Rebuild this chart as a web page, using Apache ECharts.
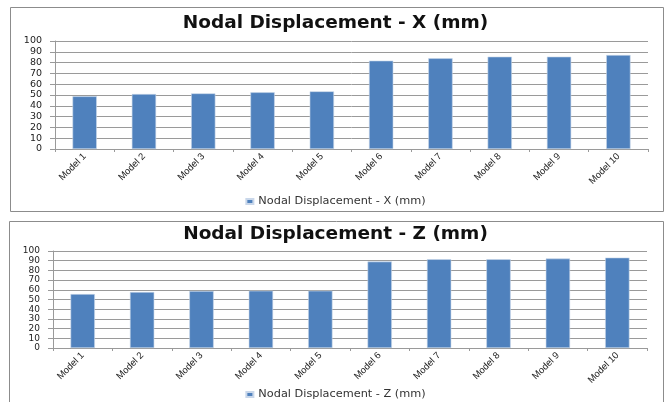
<!DOCTYPE html>
<html>
<head>
<meta charset="utf-8">
<script src="https://cdn.jsdelivr.net/npm/echarts@6/dist/echarts.min.js"></script>
<style>
  html, body { margin: 0; padding: 0; background: #fff; }
  #chart { width: 671px; height: 402px; }
</style>
</head>
<body>
<div id="chart"></div>
<script>
// Model names along the category axis
const models = ['Model 1', 'Model 2', 'Model 3', 'Model 4', 'Model 5',
                'Model 6', 'Model 7', 'Model 8', 'Model 9', 'Model 10'];

// Nodal displacement results per model (mm)
const dispX = [48.8, 50.9, 51.5, 52.5, 53.4, 81.8, 84.0, 85.5, 85.5, 87.0];
const dispZ = [55.6, 57.7, 58.7, 59.0, 59.0, 89.1, 91.5, 91.5, 92.2, 93.2];

// Series / title names
const nameX = 'Nodal Displacement - X (mm)';
const nameZ = 'Nodal Displacement - Z (mm)';

const BAR = '#4F81BD';
const GRID_LINE = '#9a9a9a';

function yAxisFor(gridIndex, size) {
  return {
    type: 'value', gridIndex, min: 0, max: 100, interval: 10,
    axisLine: { show: true, lineStyle: { color: GRID_LINE } },
    axisTick: { show: true, length: 5, lineStyle: { color: GRID_LINE } },
    splitLine: { show: true, lineStyle: { color: GRID_LINE, width: 1 } },
    axisLabel: {
      fontFamily: 'DejaVu Sans', fontSize: size, color: '#222', margin: 13,
      showMinLabel: true, showMaxLabel: true, hideOverlap: false
    }
  };
}

function xAxisFor(gridIndex) {
  return {
    type: 'category', gridIndex, data: models,
    axisLine: { show: true, lineStyle: { color: GRID_LINE } },
    axisTick: { show: true, length: 3, alignWithLabel: false, lineStyle: { color: GRID_LINE } },
    axisLabel: {
      rotate: 45, interval: 0, fontFamily: 'Liberation Sans', fontSize: 9.5,
      color: '#222', margin: 6
    }
  };
}

const chart = echarts.init(document.getElementById('chart'), null, { renderer: 'canvas' });

const titleStyle = { fontFamily: 'DejaVu Sans', fontWeight: 'bold', fontSize: 18.5, color: '#111' };
const legendText = { fontFamily: 'DejaVu Sans', fontSize: 11.3, color: '#333' };

chart.setOption({
  animation: false,
  backgroundColor: '#fff',
  graphic: [
    { type: 'rect', shape: { x: 10.5, y: 7.5, width: 653, height: 204 },
      style: { fill: 'none', stroke: '#8c8c8c', lineWidth: 1 }, z: -1 },
    { type: 'rect', shape: { x: 9.5, y: 221.5, width: 654, height: 190 },
      style: { fill: 'none', stroke: '#8c8c8c', lineWidth: 1 }, z: -1 }
  ],
  title: [
    { text: nameX, left: 'center', top: 9, textStyle: titleStyle },
    { text: nameZ, left: 'center', top: 220, textStyle: titleStyle }
  ],
  legend: [
    { data: [nameX], top: 191, left: 'center', icon: 'rect', itemWidth: 7, itemHeight: 5, itemGap: 5,
      textStyle: legendText },
    { data: [nameZ], top: 384, left: 'center', icon: 'rect', itemWidth: 7, itemHeight: 5, itemGap: 5,
      textStyle: legendText }
  ],
  grid: [
    { left: 55, top: 41, width: 593, height: 108 },
    { left: 53, top: 251, width: 594, height: 97 }
  ],
  xAxis: [xAxisFor(0), xAxisFor(1)],
  yAxis: [yAxisFor(0, 9.5), yAxisFor(1, 9)],
  series: [
    { name: nameX, type: 'bar', xAxisIndex: 0, yAxisIndex: 0, data: dispX,
      barWidth: '41%', itemStyle: { color: BAR, borderColor: '#c9d7ea', borderWidth: 0.6 } },
    { name: nameZ, type: 'bar', xAxisIndex: 1, yAxisIndex: 1, data: dispZ,
      barWidth: '41%', itemStyle: { color: BAR, borderColor: '#c9d7ea', borderWidth: 0.6 } }
  ]
});
</script>
</body>
</html>
